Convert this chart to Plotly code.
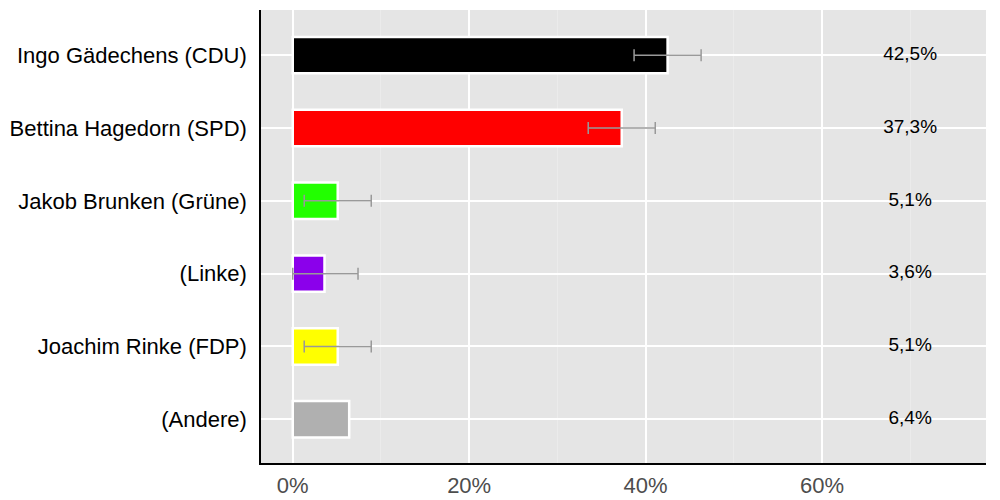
import plotly.graph_objects as go

candidates = ["Ingo Gädechens (CDU)", "Bettina Hagedorn (SPD)", "Jakob Brunken (Grüne)",
              "(Linke)", "Joachim Rinke (FDP)", "(Andere)"]
values = [42.5, 37.3, 5.1, 3.6, 5.1, 6.4]
err_plus = [3.8, 3.8, 3.8, 3.8, 3.8, None]
err_minus = [3.8, 3.8, 3.8, 3.6, 3.8, None]
colors = ["#000000", "#FF0000", "#22FF00", "#8B00EB", "#FFFF00", "#B0B0B0"]
value_labels = ["42,5%", "37,3%", "5,1%", "3,6%", "5,1%", "6,4%"]
label_x = 70
tick_vals = [0, 20, 40, 60]
tick_text = ["0%", "20%", "40%", "60%"]

font = "Liberation Sans, Arial, Helvetica, sans-serif"

fig = go.Figure()
fig.add_trace(go.Bar(
    y=candidates, x=values, orientation="h", width=0.5,
    marker=dict(color=colors, line=dict(color="white", width=2.5)),
    hoverinfo="skip", showlegend=False,
))

idx = [i for i, e in enumerate(err_plus) if e is not None]
fig.add_trace(go.Scatter(
    y=[candidates[i] for i in idx], x=[values[i] for i in idx], mode="markers",
    marker=dict(size=1, opacity=0),
    error_x=dict(type="data", array=[err_plus[i] for i in idx],
                 arrayminus=[err_minus[i] for i in idx], symmetric=False,
                 color="#999999", thickness=1.5, width=6),
    hoverinfo="skip", showlegend=False,
))
fig.add_trace(go.Scatter(
    y=candidates, x=[label_x] * len(candidates), mode="text", text=value_labels,
    textfont=dict(family=font, size=19, color="#000000"), showlegend=False, hoverinfo="skip",
))

fig.update_layout(
    width=1000, height=500,
    margin=dict(l=246, r=22, t=2, b=45),
    paper_bgcolor="white", plot_bgcolor="#E5E5E5",
    font=dict(family=font),
    bargap=0.5,
)
fig.update_xaxes(
    range=[-3.6, 78.6], tickvals=tick_vals, ticktext=tick_text,
    showgrid=True, gridcolor="white", gridwidth=2,
    minor=dict(tickvals=[10, 30, 50, 70], showgrid=True, gridcolor="#EBEBEB", gridwidth=1),
    zeroline=False, showline=True, linecolor="black", linewidth=1.5,
    tickfont=dict(family=font, size=22, color="#4D4D4D"), ticks="", ticklabelstandoff=2,
)
fig.update_yaxes(
    categoryorder="array", categoryarray=candidates, autorange=False, range=[5.6, -0.62],
    showgrid=True, gridcolor="white", gridwidth=2, zeroline=False,
    showline=True, linecolor="black", linewidth=1.5,
    tickfont=dict(family=font, size=22, color="#000000"), ticks="", ticklabelstandoff=8,
)

fig.write_html("out.html")
